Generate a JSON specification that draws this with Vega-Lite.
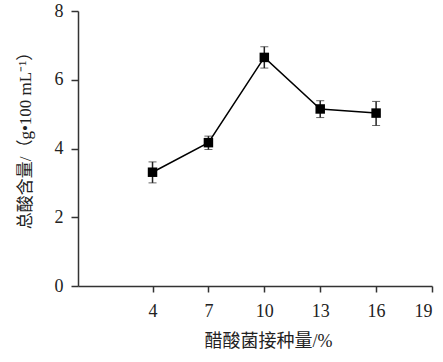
{
  "$schema": "https://vega.github.io/schema/vega-lite/v6.json",
  "width": 354,
  "height": 275,
  "autosize": "none",
  "padding": {"left": 78, "top": 11, "right": 11, "bottom": 76},
  "background": "white",
  "config": {
    "view": {"stroke": null},
    "font": "Liberation Serif"
  },
  "data": {
    "values": [
      {"x": 4, "y": 3.31, "lo": 3.0, "hi": 3.61},
      {"x": 7, "y": 4.17, "lo": 3.97, "hi": 4.36},
      {"x": 10, "y": 6.65, "lo": 6.34, "hi": 6.96},
      {"x": 13, "y": 5.15, "lo": 4.9, "hi": 5.39},
      {"x": 16, "y": 5.03, "lo": 4.67, "hi": 5.37}
    ]
  },
  "encoding": {
    "x": {
      "field": "x",
      "type": "quantitative",
      "scale": {"domain": [0, 19], "nice": false, "zero": true},
      "axis": {
        "values": [4, 7, 10, 13, 16, 19],
        "grid": false,
        "domainColor": "#333333",
        "domainWidth": 1.5,
        "tickColor": "#333333",
        "tickWidth": 1.5,
        "tickSize": 6,
        "labelFont": "Liberation Serif",
        "labelFontSize": 18,
        "labelColor": "#222222",
        "labelPadding": 10,
        "title": "醋酸菌接种量/%",
        "titleFont": "Liberation Serif, Noto Sans CJK SC",
        "titleFontSize": 18,
        "titleFontWeight": "normal",
        "titleColor": "#222222",
        "titlePadding": 12,
        "titleX": 190
      }
    }
  },
  "layer": [
    {
      "mark": {"type": "errorbar", "ticks": {"size": 8, "color": "#222222", "strokeWidth": 1.5}, "rule": {"color": "#222222", "strokeWidth": 1.5}},
      "encoding": {
        "y": {"field": "lo", "type": "quantitative", "title": "总酸含量/（g•100 mL⁻¹）"},
        "y2": {"field": "hi"}
      }
    },
    {
      "mark": {"type": "line", "color": "#000000", "strokeWidth": 1.5},
      "encoding": {
        "y": {
          "field": "y",
          "type": "quantitative",
          "title": "总酸含量/（g•100 mL⁻¹）",
          "scale": {"domain": [0, 8], "nice": false},
          "axis": {
            "values": [0, 2, 4, 6, 8],
            "grid": false,
            "domainColor": "#333333",
            "domainWidth": 1.5,
            "tickColor": "#333333",
            "tickWidth": 1.5,
            "tickSize": 7,
            "labelFont": "Liberation Serif",
            "labelFontSize": 18,
            "labelColor": "#222222",
            "labelPadding": 8,
            "title": "总酸含量/（g•100 mL⁻¹）",
            "titleFont": "Liberation Serif, Noto Sans CJK SC",
            "titleFontSize": 17,
            "titleFontWeight": "normal",
            "titleColor": "#222222",
            "titlePadding": 20,
            "titleY": 125
          }
        }
      }
    },
    {
      "mark": {"type": "square", "color": "#000000", "size": 90, "opacity": 1},
      "encoding": {
        "y": {"field": "y", "type": "quantitative", "title": "总酸含量/（g•100 mL⁻¹）"}
      }
    }
  ]
}
